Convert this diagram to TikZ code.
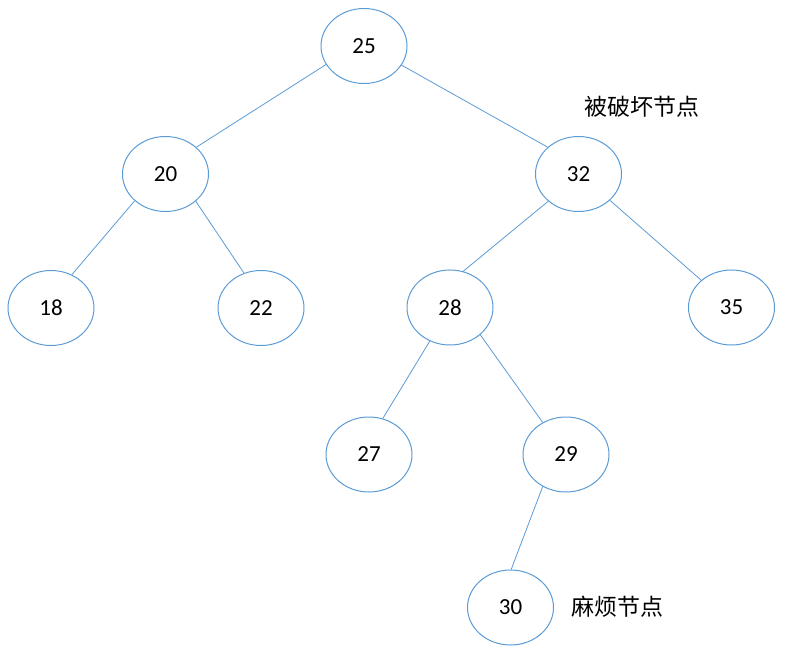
\documentclass[tikz,border=0pt]{standalone}
\usepackage{fontspec}
\usetikzlibrary{shapes.geometric}
\setmainfont{Carlito}
\newfontfamily\cjk{Noto Sans CJK SC}
\definecolor{nodeblue}{HTML}{5B9BD5}
\begin{document}
\begin{tikzpicture}[x=1pt,y=-1pt,
		main/.style = {draw=nodeblue, line width=1pt, ellipse, minimum width=86pt, minimum height=75pt, inner sep=0pt, font=\fontsize{23}{23}\selectfont},
		note/.style = {font=\cjk\fontsize{23}{23}\selectfont}]
				\useasboundingbox (0,0) rectangle (788,650);
				\node[main] (n25) at (364,46) {25};
				\node[main] (n20) at (165.5,174) {20};
				\node[main] (n32) at (578.5,174) {32};
				\node[main] (n18) at (51,308) {18};
				\node[main] (n22) at (261,308) {22};
				\node[main] (n28) at (450,307.5) {28};
				\node[main] (n35) at (731.5,307.5) {35};
				\node[main] (n27) at (369,454.5) {27};
				\node[main] (n29) at (566,454.5) {29};
				\node[main] (n30) at (510.5,607.5) {30};

				\node[note] (broken) at (642,107) {被破坏节点};
				\node[note] (trouble) at (617.5,607) {麻烦节点};

				\draw[nodeblue, line width=0.8pt] (n25.206) to (n20.41)
				(n25.333) to (n32.139)
				(n20.221) to (n18.58)
				(n20.318) to (n22.116)
				(n32.222) to (n28.70)
				(n32.320) to (n35.138)
				(n28.239) to (n27.69)
				(n28.318) to (n29.126)
				(n29.234) to (n30.89);

			\end{tikzpicture}
\end{document}
